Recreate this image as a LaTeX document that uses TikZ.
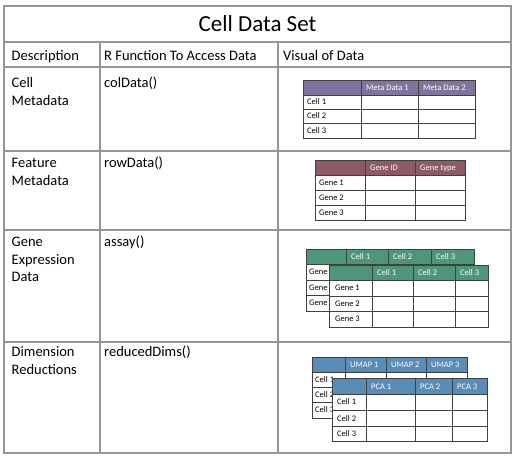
\documentclass[tikz,border=0pt]{standalone}
\usepackage{fontspec}
\setmainfont{Carlito}
\definecolor{mdpurple}{RGB}{128,116,158}
\definecolor{fdmaroon}{RGB}{142,90,102}
\definecolor{gegreen}{RGB}{78,150,122}
\definecolor{drblue}{RGB}{90,140,184}
\definecolor{gridgray}{RGB}{150,150,150}
\newcommand\cdsgrid[9]{%
  % #1 colour, #2 L, #3 R, #4 T, #5 header bottom, #6 B, #7 inner xs, #8 inner ys
  \fill[white] (#2,#4) rectangle (#3,#6);
  \fill[#1] (#2,#4) rectangle (#3,#5);
  \foreach \xx in {#7} {\draw[tabline] (\xx,#4) -- (\xx,#6);}
  \foreach \yy in {#5,#8} {\draw[tabline] (#2,\yy) -- (#3,\yy);}
  \draw[tabline] (#2,#4) rectangle (#3,#6);
}
\begin{document}
\begin{tikzpicture}[x=1pt,y=-1pt,
  outline/.style={draw=gridgray,line width=1.3pt},
  tabline/.style={draw=black!75,line width=0.8pt},
  body/.style={anchor=base west,inner sep=0pt,font=\fontsize{14.5}{17}\selectfont},
  title/.style={anchor=base,inner sep=0pt,font=\fontsize{23}{27}\selectfont},
  hd/.style={anchor=base west,inner sep=0pt,text=white,font=\fontsize{8.5}{10}\selectfont},
  rl/.style={anchor=base west,inner sep=0pt,font=\fontsize{8.5}{10}\selectfont}]
\useasboundingbox (0,0) rectangle (520,457);
\fill[white] (0,0) rectangle (520,457);

% outer table
\draw[outline] (4,6) rectangle (511,453);
\foreach \yy in {42,67,151,230,342} {\draw[outline] (4,\yy) -- (511,\yy);}
\draw[outline] (100,42) -- (100,453);
\draw[outline] (278,42) -- (278,453);

\node[title] (ttl) at (257.5,32) {Cell Data Set};
\node[body] (h1) at (11.5,61) {Description};
\node[body] (h2) at (104,61) {R Function To Access Data};
\node[body] (h3) at (283,61) {Visual of Data};

\node[body] (d1a) at (11.5,88) {Cell};
\node[body] (d1b) at (11.5,105.5) {Metadata};
\node[body] (f1) at (104,88) {colData()};

\node[body] (d2a) at (11.5,168) {Feature};
\node[body] (d2b) at (11.5,185.5) {Metadata};
\node[body] (f2) at (104,168) {rowData()};

\node[body] (d3a) at (11.5,247) {Gene};
\node[body] (d3b) at (11.5,264.5) {Expression};
\node[body] (d3c) at (11.5,282) {Data};
\node[body] (f3) at (104,247) {assay()};

\node[body] (d4a) at (11.5,357) {Dimension};
\node[body] (d4b) at (11.5,374.5) {Reductions};
\node[body] (f4) at (104,357) {reducedDims()};

% table 1: cell metadata
\cdsgrid{mdpurple}{303}{475}{80}{95}{138}{361,418}{109,123}{}
\node[hd] (t1h1) at (366,90.5) {Meta Data 1};
\node[hd] (t1h2) at (423,90.5) {Meta Data 2};
\node[rl] (t1r1) at (307,105) {Cell 1};
\node[rl] (t1r2) at (307,119) {Cell 2};
\node[rl] (t1r3) at (307,133.5) {Cell 3};

% table 2: feature metadata
\cdsgrid{fdmaroon}{315}{465}{160}{175}{220}{365,415}{190,205}{}
\node[hd] (t2h1) at (370,170.5) {Gene ID};
\node[hd] (t2h2) at (420,170.5) {Gene type};
\node[rl] (t2r1) at (319,185.5) {Gene 1};
\node[rl] (t2r2) at (319,200.5) {Gene 2};
\node[rl] (t2r3) at (319,215.5) {Gene 3};

% table 3: assays (back)
\cdsgrid{gegreen}{306}{474}{249}{264}{311}{346,388,431}{280,295}{}
\node[hd] (t3bh1) at (351,259.5) {Cell 1};
\node[hd] (t3bh2) at (393,259.5) {Cell 2};
\node[hd] (t3bh3) at (436,259.5) {Cell 3};
\node[rl] (t3br1) at (309,275) {Gene 1};
\node[rl] (t3br2) at (309,290.5) {Gene 2};
\node[rl] (t3br3) at (309,306) {Gene 3};
% table 3: assays (front)
\cdsgrid{gegreen}{329}{488}{265}{280}{327}{372,413,455}{296,311}{}
\node[hd] (t3fh1) at (377,275.5) {Cell 1};
\node[hd] (t3fh2) at (418,275.5) {Cell 2};
\node[hd] (t3fh3) at (460,275.5) {Cell 3};
\node[rl] (t3fr1) at (335,291) {Gene 1};
\node[rl] (t3fr2) at (335,306.5) {Gene 2};
\node[rl] (t3fr3) at (335,322) {Gene 3};

% table 4: reduced dims (back)
\cdsgrid{drblue}{312}{467}{357}{372}{418}{345,386,426}{387,402}{}
\node[hd] (t4bh1) at (350,367.5) {UMAP 1};
\node[hd] (t4bh2) at (391,367.5) {UMAP 2};
\node[hd] (t4bh3) at (431,367.5) {UMAP 3};
\node[rl] (t4br1) at (315,382.5) {Cell 1};
\node[rl] (t4br2) at (315,397.5) {Cell 2};
\node[rl] (t4br3) at (315,413) {Cell 3};
% table 4: reduced dims (front)
\cdsgrid{drblue}{332}{487}{378}{394}{441}{366,415,452}{410,426}{}
\node[hd] (t4fh1) at (371,389) {PCA 1};
\node[hd] (t4fh2) at (420,389) {PCA 2};
\node[hd] (t4fh3) at (457,389) {PCA 3};
\node[rl] (t4fr1) at (337,405) {Cell 1};
\node[rl] (t4fr2) at (337,421) {Cell 2};
\node[rl] (t4fr3) at (337,436.5) {Cell 3};
\end{tikzpicture}
\end{document}
